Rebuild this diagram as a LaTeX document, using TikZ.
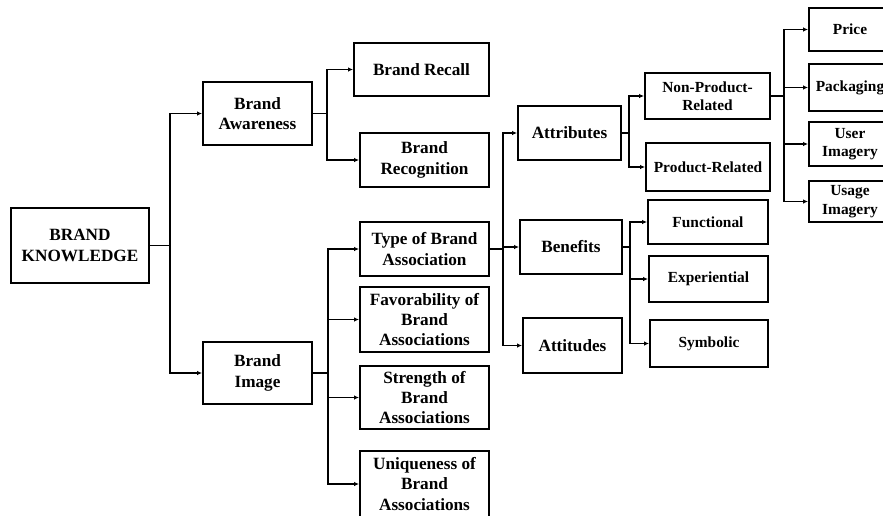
\documentclass[tikz,border=0pt]{standalone}
\usepackage{fontspec}
\setmainfont{Liberation Serif}
\usetikzlibrary{arrows.meta}
% \placebox{style}{x1}{y1}{x2}{y2}{name}{text}: a box given by its corners
\newcommand\placebox[7]{%
  \node[#1, minimum width={(#4-#2)*1pt}, minimum height={(#5-#3)*1pt}]
    (#6) at ({(#2+#4)/2},{(#3+#5)/2}) {#7};}
\begin{document}
\begin{tikzpicture}[x=1pt,y=-1pt,
  box/.style={draw, line width=1.9pt, align=center, inner sep=0pt,
    font=\fontsize{17.2}{20.3}\selectfont\bfseries},
  sbox/.style={box, font=\fontsize{15.4}{18.5}\selectfont\bfseries},
  link/.style={line width=1.6pt},
  arr/.style={link, -{Latex[length=5pt,width=4.5pt]}}]
\useasboundingbox (0,0) rectangle (883,515);

% boxes
\placebox{box}{11}{208}{149}{283}{bk}{BRAND\\KNOWLEDGE}
\placebox{box}{203}{82}{312}{145}{aw}{Brand\\Awareness}
\placebox{box}{203}{342}{312}{404}{im}{Brand\\Image}
\placebox{box}{354}{43}{489}{96}{rc}{Brand Recall}
\placebox{box}{360}{133}{489}{187}{rg}{Brand\\Recognition}
\placebox{box}{360}{222}{489}{276}{ty}{Type of Brand\\Association}
\placebox{box}{360}{287}{489}{352}{fv}{Favorability of\\Brand\\Associations}
\placebox{box}{360}{366}{489}{429}{st}{Strength of\\Brand\\Associations}
\placebox{box}{360}{451}{489}{517}{un}{Uniqueness of\\Brand\\Associations}
\placebox{box}{518}{106}{621}{160}{at}{Attributes}
\placebox{box}{520}{220}{622}{274}{bn}{Benefits}
\placebox{box}{523}{318}{622}{373}{td}{Attitudes}
\placebox{sbox}{645}{73}{770}{119}{np}{Non-Product-\\Related}
\placebox{sbox}{646}{143}{770}{191}{pr}{Product-Related}
\placebox{sbox}{648}{200}{768}{244}{fn}{Functional}
\placebox{sbox}{649}{256}{768}{302}{ex}{Experiential}
\placebox{sbox}{650}{320}{768}{367}{sy}{Symbolic}
\placebox{sbox}{809}{8}{891}{51}{pc}{Price}
\placebox{sbox}{809}{64}{891}{111}{pk}{Packaging}
\placebox{sbox}{809}{122}{891}{166}{us}{User\\Imagery}
\placebox{sbox}{809}{181}{891}{222}{ug}{Usage\\Imagery}

% x positions of the vertical trunks
\coordinate (jk) at (170,0);
\coordinate (ja) at (327,0);
\coordinate (ji) at (328,0);
\coordinate (jt) at (503,0);
\coordinate (jat) at (629,0);
\coordinate (jbn) at (630,0);
\coordinate (jnp) at (784,0);

% parent -> trunk -> children
\newcommand\branch[3]{%
  \draw[link] (#1.east) -- (#2 |- #1.east);
  \foreach \c in {#3} \draw[arr] (#2 |- #1.east) |- (\c.west);}
\branch{bk}{jk}{aw,im}
\branch{aw}{ja}{rc,rg}
\branch{im}{ji}{ty,fv,st,un}
\branch{ty}{jt}{at,bn,td}
\branch{at}{jat}{np,pr}
\branch{bn}{jbn}{fn,ex,sy}
\branch{np}{jnp}{pc,pk,us,ug}
\end{tikzpicture}
\end{document}
